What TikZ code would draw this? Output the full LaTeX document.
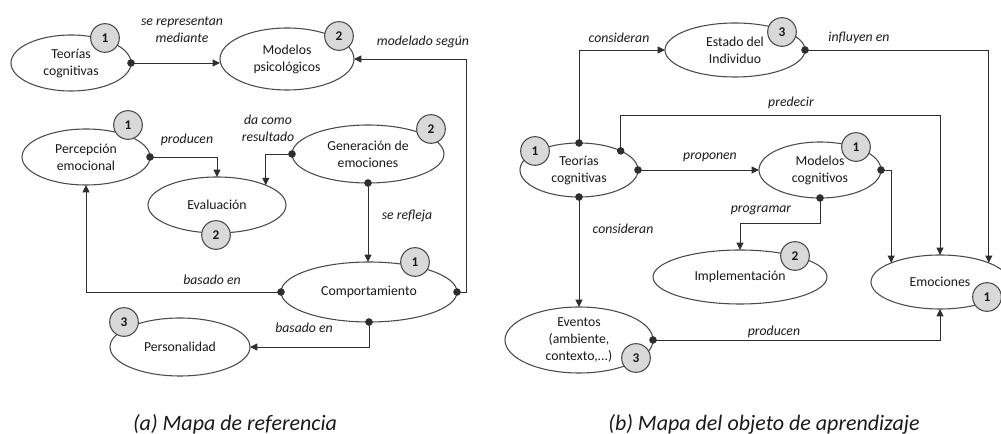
\documentclass[tikz,border=0pt]{standalone}
\usepackage{fontspec}
\setmainfont{Carlito}
\usetikzlibrary{arrows.meta,calc,shapes.geometric}
\definecolor{linec}{HTML}{2E2E2E}
\definecolor{ellc}{HTML}{4A4A4A}
\definecolor{badgec}{HTML}{D9D9D9}
\definecolor{txtc}{HTML}{1A1A1A}
\tikzset{
  ell/.style 2 args={ellipse, draw=ellc, fill=white, line width=0.8pt, inner sep=0pt, outer sep=0pt,
    minimum width=#1, minimum height=#2, align=center, text=txtc, font=\fontsize{10.3}{12.75}\selectfont},
  badge/.style={circle, draw=ellc, fill=badgec, line width=0.8pt, minimum size=21.5pt, inner sep=0pt,
    text=txtc, font=\bfseries\fontsize{10}{10}\selectfont},
  conn/.style={draw=linec, line width=0.7pt, shorten <=-2.8pt,
    {Circle[length=5.6pt]}-{Triangle[length=5.5pt,width=5.2pt]}},
  lab/.style={align=center, text=txtc, font=\itshape\fontsize{10.3}{12.75}\selectfont},
  capt/.style={text=txtc, font=\itshape\fontsize{16.5}{19}\selectfont}
}
\begin{document}
\begin{tikzpicture}[x=0.75pt,y=-0.75pt]
\useasboundingbox (0,0) rectangle (1001,434);
\clip (0,0) rectangle (1001,434);
% ---------- (a) ----------
\node[ell={90pt}{42pt}] (tca) at (71,63) {Teorías\\cognitivas};
\node[ell={100.5pt}{46.5pt}] (mps) at (287,59) {Modelos\\psicológicos};
\node[ell={96pt}{42pt}] (per) at (86,157) {Percepción\\emocional};
\node[ell={103.5pt}{42pt}] (eva) at (217,205) {Evaluación};
\node[ell={114pt}{43.5pt}] (gen) at (368,154) {Generación de\\emociones};
\node[ell={132pt}{45pt}] (com) at (369,292) {Comportamiento};
\node[ell={105pt}{43.5pt}] (pers) at (180,347) {Personalidad};
% ---------- (b) ----------
\node[ell={105pt}{40.5pt}] (est) at (735,50) {Estado del\\Individuo};
\node[ell={88.5pt}{40.5pt}] (tcb) at (579,170) {Teorías\\cognitivas};
\node[ell={91.5pt}{42pt}] (mco) at (820,170) {Modelos\\cognitivos};
\node[ell={130.5pt}{40.5pt}] (imp) at (740,277) {Implementación};
\node[ell={111pt}{49.5pt}, inner ysep=-3pt, font=\fontsize{10.3}{13}\selectfont] (eve) at (579,340) {Eventos\\(ambiente,\\contexto,...)};
\node[ell={103.5pt}{40.5pt}] (emo) at (940,282) {Emociones};
% ---------- badges ----------
\node[badge] (tcab) at (105,38) {1};
\node[badge] (mpsb) at (339,36) {2};
\node[badge] (perb) at (128,125) {1};
\node[badge] (evab) at (216,235) {2};
\node[badge] (genb) at (431,129) {2};
\node[badge] (comb) at (415,262) {1};
\node[badge] (persb) at (124,322) {3};
\node[badge] (estb) at (782,32) {3};
\node[badge] (tcbb) at (535,151) {1};
\node[badge] (mcob) at (856,147) {1};
\node[badge] (impb) at (795,256) {2};
\node[badge] (eveb) at (636,358) {3};
\node[badge] (emob) at (987,297) {1};
% ---------- connectors (a) ----------
\draw[conn] (tca.east) -- (tca.east -| mps.west);
\draw[conn] (com.east) -- ++(9,0) |- (mps.east);
\draw[conn] (per.east) -| (eva.north);
\draw[conn] (gen.west) -| (eva.north east);
\draw[conn] (gen.south) -- (gen.south |- com.north);
\draw[conn] (com.west) -| (per.south);
\draw[conn] (com.south) |- (pers.east);
% ---------- connectors (b) ----------
\draw[conn] (tcb.north) |- (est.west);
\draw[conn] (est.east) -| (emo.north east);
\draw[conn] (tcb.north east) -- ++(0,-35) -| (emo.north);
\draw[conn] (tcb.east) -- (mco.west);
\draw[conn] (mco.east) -| (emo.north west);
\draw[conn] (mco.south) -- ++(0,25) -| (imp.north);
\draw[conn] (tcb.south) -- (eve.north);
\draw[conn] (eve.east) -| (emo.south);
% ---------- labels ----------
\node[lab] (l1) at (182,30) {se representan\\mediante};
\node[lab] (l2) at (423,42) {modelado según};
\node[lab] (l3) at (187,140) {producen};
\node[lab] (l4) at (268,128) {da como\\resultado};
\node[lab] (l5) at (407,216) {se refleja};
\node[lab] (l6) at (212,280) {basado en};
\node[lab] (l7) at (304,328) {basado en};
\node[lab] (l8) at (619,38) {consideran};
\node[lab] (l9) at (859,38) {influyen en};
\node[lab] (l10) at (791,103) {predecir};
\node[lab] (l11) at (710,157) {proponen};
\node[lab] (l12) at (761,210) {programar};
\node[lab] (l13) at (623,229) {consideran};
\node[lab] (l14) at (774,332) {producen};
% ---------- captions ----------
\node[capt] (ca) at (235,424) {(a) Mapa de referencia};
\node[capt] (cb) at (764,424) {(b) Mapa del objeto de aprendizaje};
\end{tikzpicture}
\end{document}
